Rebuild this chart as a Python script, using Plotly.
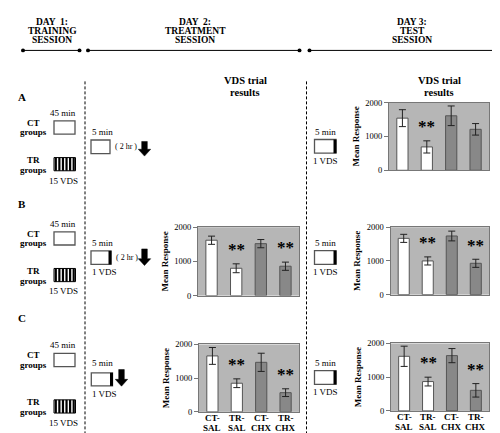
import plotly.graph_objects as go

# ---------------- data ----------------
groups = ["CT-SAL", "TR-SAL", "CT-CHX", "TR-CHX"]
group_tick_top = ["CT-", "TR-", "CT-", "TR-"]
group_tick_bottom = ["SAL", "SAL", "CHX", "CHX"]
bar_colors = ["#ffffff", "#ffffff", "#888888", "#888888"]

A_test_mean = [1540, 690, 1610, 1210]
A_test_err = [250, 180, 290, 170]
A_test_sig = [False, True, False, False]

B_treat_mean = [1620, 800, 1520, 860]
B_treat_err = [120, 130, 120, 120]
B_treat_sig = [False, True, False, True]

B_test_mean = [1670, 1000, 1740, 930]
B_test_err = [120, 120, 145, 120]
B_test_sig = [False, True, False, True]

C_treat_mean = [1660, 850, 1470, 570]
C_treat_err = [250, 130, 270, 115]
C_treat_sig = [False, True, False, True]

C_test_mean = [1620, 870, 1640, 610]
C_test_err = [300, 130, 210, 200]
C_test_sig = [False, True, False, True]

y_ticks = [0, 1000, 2000]

W, H = 500, 433
SERIF = "Liberation Serif, Times New Roman, serif"
BG = "#b6b6b6"
INK = "#000000"


def px(x):
    return x / W


def py(y):
    return 1 - y / H


fig = go.Figure()
shapes = []
annots = []


def text(x, y, s, size=9, bold=False, anchor="center", color=INK):
    annots.append(dict(x=px(x), y=py(y), xref="paper", yref="paper",
                       text=("<b>%s</b>" % s) if bold else s, showarrow=False,
                       font=dict(family=SERIF, size=size, color=color),
                       xanchor=anchor, yanchor="middle"))


def line(x0, y0, x1, y1, color=INK, width=1, dash="solid"):
    shapes.append(dict(type="line", xref="paper", yref="paper",
                       x0=px(x0), y0=py(y0), x1=px(x1), y1=py(y1),
                       line=dict(color=color, width=width, dash=dash)))


def rect(x0, y0, x1, y1, color="#555", width=1.3, fill="white"):
    shapes.append(dict(type="rect", xref="paper", yref="paper",
                       x0=px(x0), y0=py(y0), x1=px(x1), y1=py(y1),
                       line=dict(color=color, width=width), fillcolor=fill))


def dot(x, y, r=2.0):
    shapes.append(dict(type="circle", xref="paper", yref="paper",
                       x0=px(x - r), y0=py(y - r), x1=px(x + r), y1=py(y + r),
                       line=dict(color=INK, width=0), fillcolor=INK))


def arrow(cx, y0, y1):
    sw, hw, hh = 2.8, 6.2, 7.0
    pts = [(cx - sw, y0), (cx + sw, y0), (cx + sw, y1 - hh), (cx + hw, y1 - hh),
           (cx, y1), (cx - hw, y1 - hh), (cx - sw, y1 - hh)]
    path = "M " + " L ".join("%f,%f" % (px(a), py(b)) for a, b in pts) + " Z"
    shapes.append(dict(type="path", xref="paper", yref="paper", path=path,
                       fillcolor=INK, line=dict(color=INK, width=0.5)))


def striped_box(x0, y0, x1, y1):
    rect(x0, y0, x1, y1, color=INK, width=1, fill="white")
    n = 6
    step = (x1 - x0) / n
    for i in range(n):
        xc = x0 + step * (i + 0.5)
        line(xc, y0, xc, y1, color=INK, width=2.2)


def vds_box(x0, y0, x1, y1):
    rect(x0, y0, x1, y1, color="#555", width=1.3)
    line(x1 - 1, y0, x1 - 1, y1, color=INK, width=3)


# ---------------- timeline header ----------------
for cx, lines_ in [(44, ["DAY  1:", "TRAINING", "SESSION"]),
                   (187, ["DAY  2:", "TREATMENT", "SESSION"]),
                   (404, ["DAY 3:", "TEST", "SESSION"])]:
    for i, s in enumerate(lines_):
        text(cx, 9.5 + 9.3 * i, s, size=9.5, bold=True)

for x0, x1 in [(15, 71.5), (80, 291.5), (301.5, 493.5)]:
    line(x0, 38.3, x1, 38.3, width=1)
    dot(x0, 38.3)
    dot(x1, 38.3)

# dashed separators
line(77, 70, 77, 432, width=1, dash="3px,2px")
line(298.5, 70, 298.5, 432, width=1, dash="3px,2px")

# ---------------- left schematic ----------------
rows = [("A", 85.5, 0, 0), ("B", 195.5, 113.5, 113.5), ("C", 312, 238, 248)]
for lab, ylab, off_ct, off_tr in rows:
    text(8, ylab, lab, size=11, bold=True, anchor="left")
    text(55, 102.3 + off_ct, "45 min", size=9)
    text(25, 112.5 + off_ct, "CT", size=9, bold=True)
    text(25, 122.3 + off_ct, "groups", size=9, bold=True)
    rect(46, 110.5 + off_ct, 67, 124 + off_ct)
    text(25, 150.7 + off_tr, "TR", size=9, bold=True)
    text(25, 160.5 + off_tr, "groups", size=9, bold=True)
    striped_box(46, 148 + off_tr, 67.5, 161.5 + off_tr)
    text(55.5, 171.5 + off_tr, "15 VDS", size=9)

# Day 2 schematic
text(82, 122.3, "5 min", size=9, anchor="left")
rect(83, 130, 102, 144)
text(104.5, 137, "( 2 hr )", size=8, anchor="left")
arrow(136.5, 131.5, 146.5)

text(82, 235.5, "5 min", size=9, anchor="left")
vds_box(83, 243.5, 103, 257.3)
text(106, 250, "( 2 hr )", size=8, anchor="left")
arrow(136.5, 241.5, 258.5)
text(82, 265.5, "1 VDS", size=9, anchor="left")

text(82, 358.3, "5 min", size=9, anchor="left")
vds_box(83.3, 368.3, 104.5, 381.7)
arrow(113.5, 365, 382)
text(82, 390, "1 VDS", size=9, anchor="left")

# Day 3 schematic
for y5 in [121.7, 235.5, 358.3]:
    d = y5 - 121.7
    text(317, 121.7 + d, "5 min", size=9)
    vds_box(306.5, 129.5 + d, 328, 143.5 + d)
    text(317, 151.7 + d, "1 VDS", size=9)

# titles
for cx in (237, 431):
    text(cx, 69.5, "VDS trial", size=10.5, bold=True)
    text(cx, 81.7, "results", size=10.5, bold=True)

# ---------------- bar charts ----------------
panels = [
    # (means, errs, sig, x0, x1, ytop, ybot, show_xlabels)
    (A_test_mean, A_test_err, A_test_sig, 381, 481, 91.7, 161.0, False),
    (B_treat_mean, B_treat_err, B_treat_sig, 190, 291, 219.3, 289.3, False),
    (B_test_mean, B_test_err, B_test_sig, 382.5, 481, 219.3, 288.3, False),
    (C_treat_mean, C_treat_err, C_treat_sig, 191, 291, 339.3, 408.3, True),
    (C_test_mean, C_test_err, C_test_sig, 383, 481, 338.3, 407.3, True),
]

layout_axes = {}
for i, (mean, err, sig, x0, x1, yt, yb, showx) in enumerate(panels, start=1):
    xa = "x" if i == 1 else "x%d" % i
    ya = "y" if i == 1 else "y%d" % i
    fig.add_trace(go.Bar(
        x=groups, y=mean, xaxis=xa, yaxis=ya, width=0.46,
        marker=dict(color=bar_colors, line=dict(color="#555555", width=1)),
        error_y=dict(type="data", array=err, color="#222", thickness=1, width=3.5),
        showlegend=False, hoverinfo="skip"))
    for g, m, e, s in zip(groups, mean, err, sig):
        if s:
            annots.append(dict(x=g, y=m + e + 80, xref=xa, yref=ya, text="<b>**</b>",
                               showarrow=False, yanchor="bottom",
                               font=dict(family=SERIF, size=17, color=INK)))
    if showx:
        for g, t1, t2 in zip(groups, group_tick_top, group_tick_bottom):
            annots.append(dict(x=g, y=py(yb + 6.5), xref=xa, yref="paper", text="<b>%s</b>" % t1,
                               showarrow=False, yanchor="middle",
                               font=dict(family=SERIF, size=9, color=INK)))
            annots.append(dict(x=g, y=py(yb + 16.5), xref=xa, yref="paper", text="<b>%s</b>" % t2,
                               showarrow=False, yanchor="middle",
                               font=dict(family=SERIF, size=9, color=INK)))
    kx = "xaxis" if i == 1 else "xaxis%d" % i
    ky = "yaxis" if i == 1 else "yaxis%d" % i
    layout_axes[kx] = dict(domain=[px(x0), px(x1)], anchor=ya, range=[-0.55, 3.55],
                           showticklabels=False, ticks="", showgrid=False, showline=True,
                           mirror=True, linecolor="#777", linewidth=1, zeroline=False,
                           fixedrange=True)
    layout_axes[ky] = dict(domain=[py(yb), py(yt)], anchor=xa, range=[0, 2000],
                           tickvals=y_ticks, ticks="outside", ticklen=4, tickcolor="#777",
                           showgrid=False, showline=True, mirror=True, linecolor="#777",
                           linewidth=1, zeroline=False,
                           tickfont=dict(family=SERIF, size=8.5, color=INK),
                           title=dict(text="<b>Mean Response</b>", standoff=4,
                                      font=dict(family=SERIF, size=9, color=INK)),
                           fixedrange=True)

fig.update_layout(
    width=W, height=H, autosize=False,
    margin=dict(l=0, r=0, t=0, b=0),
    paper_bgcolor="white", plot_bgcolor=BG,
    shapes=shapes, annotations=annots,
    font=dict(family=SERIF, size=9, color=INK),
    **layout_axes,
)

fig.write_html("out.html", config={"displayModeBar": False})
